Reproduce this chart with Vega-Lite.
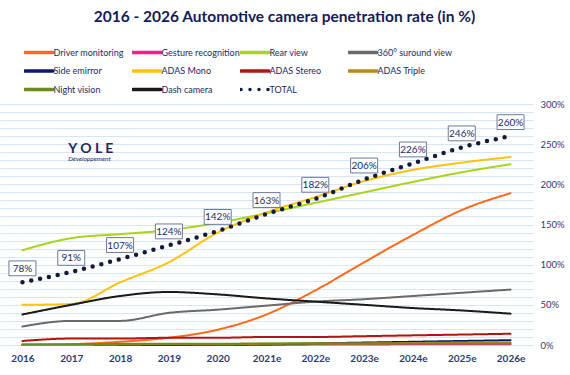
{
  "$schema": "https://vega.github.io/schema/vega-lite/v6.json",
  "width": 533,
  "height": 241,
  "autosize": {"type": "none"},
  "padding": {"left": 0, "top": 104, "right": 37, "bottom": 30},
  "background": "white",
  "title": {
    "text": "2016 - 2026 Automotive camera penetration rate (in %)",
    "font": "Lato",
    "fontSize": 15.5,
    "fontWeight": "bold",
    "color": "#141a5a",
    "anchor": "middle",
    "dx": 18,
    "offset": 18.5
  },
  "config": {
    "view": {"stroke": null},
    "font": "Lato",
    "legend": {
      "title": null,
      "orient": "none",
      "legendX": 24,
      "legendY": -60,
      "padding": 0,
      "direction": "horizontal",
      "columns": 4,
      "gridAlign": "all",
      "columnPadding": 0,
      "rowPadding": 1.5,
      "clipHeight": 17,
      "symbolType": "stroke",
      "symbolSize": 784,
      "symbolOffset": -1,
      "symbolStrokeWidth": 3.5,
      "labelFont": "Lato",
      "labelFontSize": 9,
      "labelColor": "#1c2a66",
      "labelOffset": -1.5,
      "labelLimit": 200
    }
  },
  "datasets": {
    "series": [
      {"year": "2016", "series": "Driver monitoring", "value": 0},
      {"year": "2017", "series": "Driver monitoring", "value": 1},
      {"year": "2018", "series": "Driver monitoring", "value": 4},
      {"year": "2019", "series": "Driver monitoring", "value": 9},
      {"year": "2020", "series": "Driver monitoring", "value": 19},
      {"year": "2021e", "series": "Driver monitoring", "value": 38},
      {"year": "2022e", "series": "Driver monitoring", "value": 68},
      {"year": "2023e", "series": "Driver monitoring", "value": 103},
      {"year": "2024e", "series": "Driver monitoring", "value": 137},
      {"year": "2025e", "series": "Driver monitoring", "value": 168},
      {"year": "2026e", "series": "Driver monitoring", "value": 189},
      {"year": "2016", "series": "Gesture recognition", "value": 0},
      {"year": "2017", "series": "Gesture recognition", "value": 0},
      {"year": "2018", "series": "Gesture recognition", "value": 0},
      {"year": "2019", "series": "Gesture recognition", "value": 0},
      {"year": "2020", "series": "Gesture recognition", "value": 0},
      {"year": "2021e", "series": "Gesture recognition", "value": 0},
      {"year": "2022e", "series": "Gesture recognition", "value": 0.5},
      {"year": "2023e", "series": "Gesture recognition", "value": 0.5},
      {"year": "2024e", "series": "Gesture recognition", "value": 1},
      {"year": "2025e", "series": "Gesture recognition", "value": 1},
      {"year": "2026e", "series": "Gesture recognition", "value": 1},
      {"year": "2016", "series": "Rear view", "value": 118},
      {"year": "2017", "series": "Rear view", "value": 133},
      {"year": "2018", "series": "Rear view", "value": 138},
      {"year": "2019", "series": "Rear view", "value": 143},
      {"year": "2020", "series": "Rear view", "value": 152},
      {"year": "2021e", "series": "Rear view", "value": 164},
      {"year": "2022e", "series": "Rear view", "value": 177},
      {"year": "2023e", "series": "Rear view", "value": 190},
      {"year": "2024e", "series": "Rear view", "value": 203},
      {"year": "2025e", "series": "Rear view", "value": 215},
      {"year": "2026e", "series": "Rear view", "value": 225},
      {"year": "2016", "series": "360° suround view", "value": 23},
      {"year": "2017", "series": "360° suround view", "value": 30},
      {"year": "2018", "series": "360° suround view", "value": 30},
      {"year": "2019", "series": "360° suround view", "value": 40},
      {"year": "2020", "series": "360° suround view", "value": 44},
      {"year": "2021e", "series": "360° suround view", "value": 49},
      {"year": "2022e", "series": "360° suround view", "value": 54},
      {"year": "2023e", "series": "360° suround view", "value": 57},
      {"year": "2024e", "series": "360° suround view", "value": 61},
      {"year": "2025e", "series": "360° suround view", "value": 65},
      {"year": "2026e", "series": "360° suround view", "value": 69},
      {"year": "2016", "series": "Side emirror", "value": 0},
      {"year": "2017", "series": "Side emirror", "value": 0},
      {"year": "2018", "series": "Side emirror", "value": 0},
      {"year": "2019", "series": "Side emirror", "value": 0},
      {"year": "2020", "series": "Side emirror", "value": 0.5},
      {"year": "2021e", "series": "Side emirror", "value": 1},
      {"year": "2022e", "series": "Side emirror", "value": 2},
      {"year": "2023e", "series": "Side emirror", "value": 3},
      {"year": "2024e", "series": "Side emirror", "value": 4},
      {"year": "2025e", "series": "Side emirror", "value": 5},
      {"year": "2026e", "series": "Side emirror", "value": 6},
      {"year": "2016", "series": "ADAS Mono", "value": 50},
      {"year": "2017", "series": "ADAS Mono", "value": 51},
      {"year": "2018", "series": "ADAS Mono", "value": 78},
      {"year": "2019", "series": "ADAS Mono", "value": 103},
      {"year": "2020", "series": "ADAS Mono", "value": 140},
      {"year": "2021e", "series": "ADAS Mono", "value": 165},
      {"year": "2022e", "series": "ADAS Mono", "value": 184},
      {"year": "2023e", "series": "ADAS Mono", "value": 204},
      {"year": "2024e", "series": "ADAS Mono", "value": 218},
      {"year": "2025e", "series": "ADAS Mono", "value": 227},
      {"year": "2026e", "series": "ADAS Mono", "value": 234},
      {"year": "2016", "series": "ADAS Stereo", "value": 5},
      {"year": "2017", "series": "ADAS Stereo", "value": 8},
      {"year": "2018", "series": "ADAS Stereo", "value": 8},
      {"year": "2019", "series": "ADAS Stereo", "value": 9},
      {"year": "2020", "series": "ADAS Stereo", "value": 9},
      {"year": "2021e", "series": "ADAS Stereo", "value": 10},
      {"year": "2022e", "series": "ADAS Stereo", "value": 10},
      {"year": "2023e", "series": "ADAS Stereo", "value": 11},
      {"year": "2024e", "series": "ADAS Stereo", "value": 12},
      {"year": "2025e", "series": "ADAS Stereo", "value": 13},
      {"year": "2026e", "series": "ADAS Stereo", "value": 14},
      {"year": "2016", "series": "ADAS Triple", "value": 0},
      {"year": "2017", "series": "ADAS Triple", "value": 0},
      {"year": "2018", "series": "ADAS Triple", "value": 0.5},
      {"year": "2019", "series": "ADAS Triple", "value": 1},
      {"year": "2020", "series": "ADAS Triple", "value": 1},
      {"year": "2021e", "series": "ADAS Triple", "value": 1.5},
      {"year": "2022e", "series": "ADAS Triple", "value": 2},
      {"year": "2023e", "series": "ADAS Triple", "value": 2},
      {"year": "2024e", "series": "ADAS Triple", "value": 2.5},
      {"year": "2025e", "series": "ADAS Triple", "value": 3},
      {"year": "2026e", "series": "ADAS Triple", "value": 3},
      {"year": "2016", "series": "Night vision", "value": 1},
      {"year": "2017", "series": "Night vision", "value": 1},
      {"year": "2018", "series": "Night vision", "value": 1.5},
      {"year": "2019", "series": "Night vision", "value": 1.5},
      {"year": "2020", "series": "Night vision", "value": 1.5},
      {"year": "2021e", "series": "Night vision", "value": 2},
      {"year": "2022e", "series": "Night vision", "value": 2},
      {"year": "2023e", "series": "Night vision", "value": 2},
      {"year": "2024e", "series": "Night vision", "value": 2},
      {"year": "2025e", "series": "Night vision", "value": 2},
      {"year": "2026e", "series": "Night vision", "value": 2},
      {"year": "2016", "series": "Dash camera", "value": 38},
      {"year": "2017", "series": "Dash camera", "value": 50},
      {"year": "2018", "series": "Dash camera", "value": 61},
      {"year": "2019", "series": "Dash camera", "value": 66},
      {"year": "2020", "series": "Dash camera", "value": 63},
      {"year": "2021e", "series": "Dash camera", "value": 58},
      {"year": "2022e", "series": "Dash camera", "value": 54},
      {"year": "2023e", "series": "Dash camera", "value": 50},
      {"year": "2024e", "series": "Dash camera", "value": 46},
      {"year": "2025e", "series": "Dash camera", "value": 43},
      {"year": "2026e", "series": "Dash camera", "value": 39}
    ],
    "total": [
      {"year": "2016", "series": "TOTAL", "value": 78, "label": "78%"},
      {"year": "2017", "series": "TOTAL", "value": 91, "label": "91%"},
      {"year": "2018", "series": "TOTAL", "value": 107, "label": "107%"},
      {"year": "2019", "series": "TOTAL", "value": 124, "label": "124%"},
      {"year": "2020", "series": "TOTAL", "value": 142, "label": "142%"},
      {"year": "2021e", "series": "TOTAL", "value": 163, "label": "163%"},
      {"year": "2022e", "series": "TOTAL", "value": 182, "label": "182%"},
      {"year": "2023e", "series": "TOTAL", "value": 206, "label": "206%"},
      {"year": "2024e", "series": "TOTAL", "value": 226, "label": "226%"},
      {"year": "2025e", "series": "TOTAL", "value": 246, "label": "246%"},
      {"year": "2026e", "series": "TOTAL", "value": 260, "label": "260%"}
    ],
    "logo": [
      {"year": "2017", "value": 244, "text": "Y O L E", "kind": "name"},
      {"year": "2017", "value": 232, "text": "Développement", "kind": "sub"}
    ]
  },
  "encoding": {
    "x": {
      "field": "year",
      "type": "ordinal",
      "sort": null,
      "scale": {"type": "point", "padding": 0.46, "domain": ["2016","2017","2018","2019","2020","2021e","2022e","2023e","2024e","2025e","2026e"]},
      "axis": {
        "title": null,
        "labelAngle": 0,
        "domain": false,
        "ticks": false,
        "grid": false,
        "labelPadding": 8,
        "labelFont": "Lato",
        "labelFontSize": 10,
        "labelFontWeight": "bold",
        "labelColor": "#2d3c70"
      }
    },
    "y": {
      "field": "value",
      "type": "quantitative",
      "scale": {"domain": [0, 300], "nice": false},
      "axis": {
        "title": null,
        "orient": "right",
        "values": [0,10,20,30,40,50,60,70,80,90,100,110,120,130,140,150,160,170,180,190,200,210,220,230,240,250,260,270,280,290,300],
        "labelExpr": "datum.value % 50 === 0 ? datum.value + '%' : ''",
        "domain": false,
        "ticks": false,
        "grid": true,
        "gridColor": "#d8e5f5",
        "gridWidth": 1,
        "labelAlign": "left",
        "labelPadding": 7,
        "labelFont": "Lato",
        "labelFontSize": 9.5,
        "labelColor": "#2d3c70"
      }
    }
  },
  "layer": [
    {
      "data": {"name": "series"},
      "mark": {"type": "line", "interpolate": "monotone", "strokeWidth": 2, "strokeCap": "round"},
      "encoding": {
        "color": {
          "field": "series",
          "type": "nominal",
          "scale": {
            "domain": ["Driver monitoring","Gesture recognition","Rear view","360° suround view","Side emirror","ADAS Mono","ADAS Stereo","ADAS Triple","Night vision","Dash camera","TOTAL"],
            "range": ["#ff6a1a","#ff1a8c","#a8d41c","#6a6a6a","#0c1870","#ffc20e","#b01515","#c0861a","#6b8c1a","#1a1a1a","#141a3c"]
          },
          "legend": {
            "encode": {"symbols": {"update": {"strokeCap": {"value": "round"}}}}
          }
        },
        "strokeDash": {
          "field": "series",
          "type": "nominal",
          "scale": {
            "domain": ["Driver monitoring","Gesture recognition","Rear view","360° suround view","Side emirror","ADAS Mono","ADAS Stereo","ADAS Triple","Night vision","Dash camera","TOTAL"],
            "range": [[1,0],[1,0],[1,0],[1,0],[1,0],[1,0],[1,0],[1,0],[1,0],[1,0],[0,9]]
          },
          "legend": {
            "encode": {"symbols": {"update": {"strokeCap": {"value": "round"}}}}
          }
        }
      }
    },
    {
      "data": {"name": "total"},
      "mark": {"type": "line", "interpolate": "monotone", "strokeWidth": 4.5, "strokeCap": "round"},
      "encoding": {
        "color": {"field": "series", "type": "nominal"},
        "strokeDash": {"field": "series", "type": "nominal"}
      }
    },
    {
      "data": {"name": "total"},
      "mark": {"type": "point", "shape": "M-1,-0.55H1V0.55H-1Z", "size": 729, "filled": true, "fill": "white", "stroke": "#6a7aa0", "strokeWidth": 1, "opacity": 1, "yOffset": -14}
    },
    {
      "data": {"name": "total"},
      "mark": {"type": "text", "font": "Lato", "fontSize": 10, "color": "#1c2a66", "yOffset": -13.5, "baseline": "middle"},
      "encoding": {"text": {"field": "label"}}
    },
    {
      "data": {"name": "logo"},
      "transform": [{"filter": "datum.kind === 'name'"}],
      "mark": {"type": "text", "font": "Lato", "fontSize": 14, "fontWeight": "bold", "color": "#1c2a66", "align": "left", "baseline": "middle", "dx": -3},
      "encoding": {"text": {"field": "text"}}
    },
    {
      "data": {"name": "logo"},
      "transform": [{"filter": "datum.kind === 'sub'"}],
      "mark": {"type": "text", "font": "Lato", "fontSize": 6.5, "fontStyle": "italic", "color": "#1c2a66", "align": "left", "baseline": "middle", "dx": -3},
      "encoding": {"text": {"field": "text"}}
    }
  ]
}
